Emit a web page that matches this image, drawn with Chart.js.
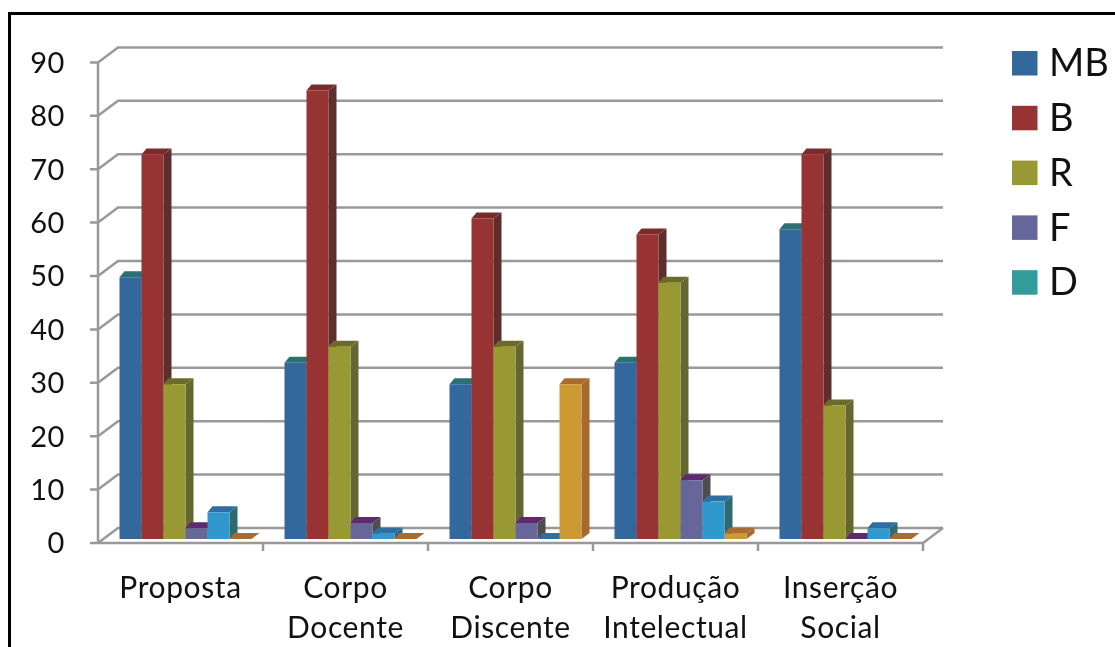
<!DOCTYPE html>
<html>
<head>
<meta charset="utf-8">
<title>Avaliação</title>
<script src="https://cdn.jsdelivr.net/npm/chart.js@4"></script>
<style>
  html, body { margin: 0; padding: 0; background: #fff; overflow: hidden; height: 100%; }
  #frame { position: absolute; left: 8px; top: 12px; width: 1200px; height: 800px; border: 3.5px solid #000; }
  #chart { position: absolute; left: 0; top: 0; }
</style>
</head>
<body>
<div id="frame"></div>
<canvas id="chart" width="1115" height="647"></canvas>
<script>
const categories = ['Proposta', ['Corpo', 'Docente'], ['Corpo', 'Discente'], ['Produção', 'Intelectual'], ['Inserção', 'Social']];
const seriesNames = ['MB', 'B', 'R', 'F', 'D', ''];
const legendNames = ['MB', 'B', 'R', 'F', 'D'];

const mb = [49, 33, 29, 33, 58];
const b = [72, 84, 60, 57, 72];
const r = [29, 36, 36, 48, 25];
const f = [2, 3, 3, 11, 0];
const d = [5, 1, 0, 7, 2];
const extra = [0, 0, 29, 1, 0];
const seriesValues = [mb, b, r, f, d, extra];

const yTicks = [0, 10, 20, 30, 40, 50, 60, 70, 80, 90];

const frontColors = ['#32689b', '#983334', '#999933', '#666699', '#3098cc', '#cc9933'];
const sideColors = ['#2c5f6e', '#5e2e2e', '#666633', '#4d4d4d', '#2f6a70', '#a8682f'];
const topColors = ['#2b7072', '#7a2c2c', '#6c6c2a', '#5f2a6e', '#2e6ea0', '#a96c30'];
const legendColors = ['#32689b', '#983334', '#999933', '#666699', '#339b9a'];

const gridColor = '#999999';
const textColor = '#111111';

// depth of the floor and of each bar
const floorX = 20, floorY = 15;
const barXLeft = 5, barXRight = 8, barY = 6;
// bars stand a little behind the front edge of the floor
const insetX = 5, insetY = 4;

const fake3d = {
  id: 'fake3d',
  beforeDraw(chart) {
    chart.ctx.letterSpacing = '0.6px';
  },
  beforeDatasetsDraw(chart) {
    const { ctx, scales: { x, y } } = chart;
    const left = x.left - insetX;
    const right = x.right - insetX;
    const base = y.getPixelForValue(0) + insetY;
    const top = y.getPixelForValue(yTicks[yTicks.length - 1]) + insetY;
    ctx.save();
    ctx.strokeStyle = gridColor;
    ctx.lineWidth = 2.5;
    ctx.beginPath();
    yTicks.forEach(v => {
      const py = y.getPixelForValue(v) + insetY;
      ctx.moveTo(left - 8, py);
      ctx.lineTo(left, py);
      ctx.lineTo(left + floorX, py - floorY);
      ctx.lineTo(right + floorX, py - floorY);
    });
    ctx.moveTo(left, top);
    ctx.lineTo(left, base);
    ctx.lineTo(right, base);
    ctx.lineTo(right + floorX, base - floorY);
    categories.forEach((c, i) => {
      const px = left + (right - left) * (i + 1) / categories.length;
      ctx.moveTo(px, base);
      ctx.lineTo(px, base + 8);
    });
    ctx.stroke();
    ctx.restore();
  },
  beforeDatasetDraw() {
    // bars are drawn below, left to right, so each one covers its neighbour's side
    return false;
  },
  afterDatasetsDraw(chart) {
    const { ctx } = chart;
    seriesValues.forEach((values, s) => {
      chart.getDatasetMeta(s).data.forEach(bar => {
        const { x, y, width, base } = bar.getProps(['x', 'y', 'width', 'base'], true);
        const l = x - width / 2, rt = x + width / 2;
        ctx.save();
        ctx.fillStyle = sideColors[s];
        ctx.beginPath();
        ctx.moveTo(rt, y);
        ctx.lineTo(rt + barXRight, y - barY);
        ctx.lineTo(rt + barXRight, base - barY);
        ctx.lineTo(rt, base);
        ctx.closePath();
        ctx.fill();
        ctx.fillStyle = topColors[s];
        ctx.beginPath();
        ctx.moveTo(l, y);
        ctx.lineTo(l + barXLeft, y - barY);
        ctx.lineTo(rt + barXRight, y - barY);
        ctx.lineTo(rt, y);
        ctx.closePath();
        ctx.fill();
        ctx.restore();
        bar.draw(ctx);
      });
    });
  },
  afterDraw(chart) {
    // legend by hand: the D swatch differs from its bars and the sixth series has no entry
    const { ctx } = chart;
    ctx.save();
    ctx.letterSpacing = '0px';
    ctx.font = '38px Lato';
    ctx.textBaseline = 'middle';
    legendNames.forEach((name, i) => {
      const rowY = 51 + i * 54.8;
      ctx.fillStyle = legendColors[i];
      ctx.fillRect(1012, rowY, 25.5, 24.5);
      ctx.fillStyle = textColor;
      ctx.fillText(name, 1049, rowY + 13);
    });
    ctx.restore();
  }
};

new Chart(document.getElementById('chart'), {
  type: 'bar',
  data: {
    labels: categories,
    datasets: seriesValues.map((values, i) => ({
      label: seriesNames[i],
      data: values,
      backgroundColor: frontColors[i],
      barPercentage: 1,
      categoryPercentage: 0.8
    }))
  },
  plugins: [fake3d],
  options: {
    responsive: false,
    devicePixelRatio: 1,
    animation: false,
    layout: { padding: { top: 58.4, right: 187, bottom: 0, left: 0 } },
    plugins: {
      tooltip: { enabled: false },
      legend: { display: false }
    },
    scales: {
      x: {
        afterFit(scale) { scale.height = 108; },
        grid: { display: false },
        border: { display: false },
        ticks: {
          color: textColor,
          font: { family: 'Lato', size: 30, lineHeight: 1.32 },
          maxRotation: 0,
          autoSkip: false,
          padding: 22,
          labelOffset: -5
        }
      },
      y: {
        min: 0,
        max: 90,
        afterFit(scale) { scale.width = 103; },
        afterBuildTicks(scale) { scale.ticks = yTicks.map(v => ({ value: v })); },
        grid: { display: false, drawTicks: false },
        border: { display: false },
        ticks: {
          color: textColor,
          font: { family: 'Lato', size: 29 },
          padding: 38,
          labelOffset: 5
        }
      }
    }
  }
});
</script>
</body>
</html>
